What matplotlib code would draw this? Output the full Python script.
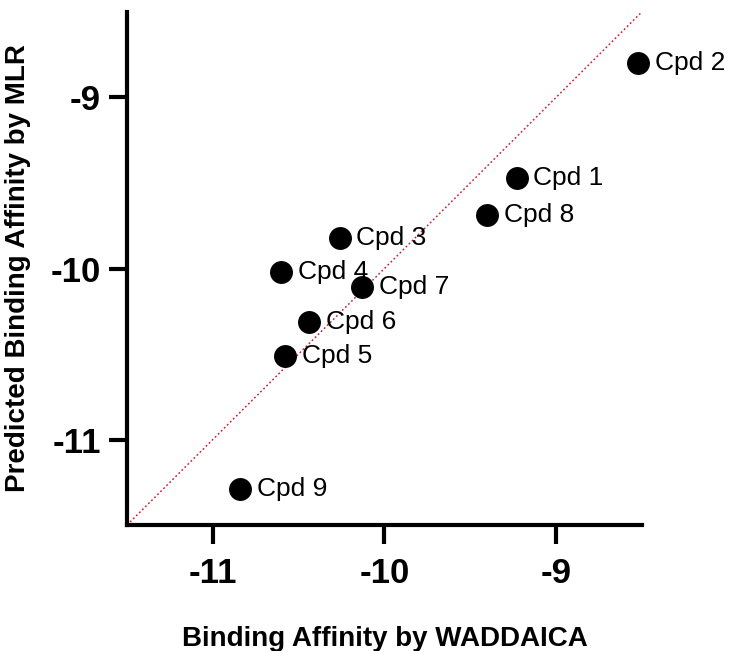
import matplotlib
matplotlib.use('Agg')
import matplotlib.pyplot as plt

plt.rcParams['font.family'] = ['Liberation Sans', 'DejaVu Sans']

labels = ['Cpd 1', 'Cpd 2', 'Cpd 3', 'Cpd 4', 'Cpd 5', 'Cpd 6', 'Cpd 7', 'Cpd 8', 'Cpd 9']
waddaica = [-9.23, -8.52, -10.26, -10.60, -10.58, -10.44, -10.13, -9.40, -10.84]
mlr = [-9.47, -8.80, -9.82, -10.02, -10.51, -10.31, -10.11, -9.69, -11.29]
ticks = [-11, -10, -9]

fig = plt.figure(figsize=(7.36, 6.51), dpi=100)
ax = fig.add_axes([0.1726, 0.1935, 0.6994, 0.7881])

ax.plot([-11.5, -8.5], [-11.5, -8.5], color='#c8283f', linestyle=(0, (1.2, 1.6)),
        linewidth=1.1, zorder=1)
ax.scatter(waddaica, mlr, s=240, color='black', zorder=3, clip_on=False)

for x, y, lab in zip(waddaica, mlr, labels):
    ax.annotate(lab, (x, y), xytext=(12, 0), textcoords='offset points',
                ha='left', va='center', fontsize=19, zorder=4)

ax.set_xlim(-11.5, -8.5)
ax.set_ylim(-11.5, -8.5)
ax.set_xticks(ticks)
ax.set_yticks(ticks)
ax.set_xticklabels([str(t) for t in ticks], fontsize=25, fontweight='bold')
ax.set_yticklabels([str(t) for t in ticks], fontsize=25, fontweight='bold')
ax.tick_params(axis='y', length=13, width=3, pad=6)
ax.tick_params(axis='x', length=14, width=3, pad=9)

for side in ['top', 'right']:
    ax.spines[side].set_visible(False)
for side in ['left', 'bottom']:
    ax.spines[side].set_linewidth(3)

ax.set_xlabel('Binding Affinity by WADDAICA', fontsize=20, fontweight='bold', labelpad=26)
ax.set_ylabel('Predicted Binding Affinity by MLR', fontsize=20, fontweight='bold', labelpad=14)

fig.savefig('out.png', dpi=100)
